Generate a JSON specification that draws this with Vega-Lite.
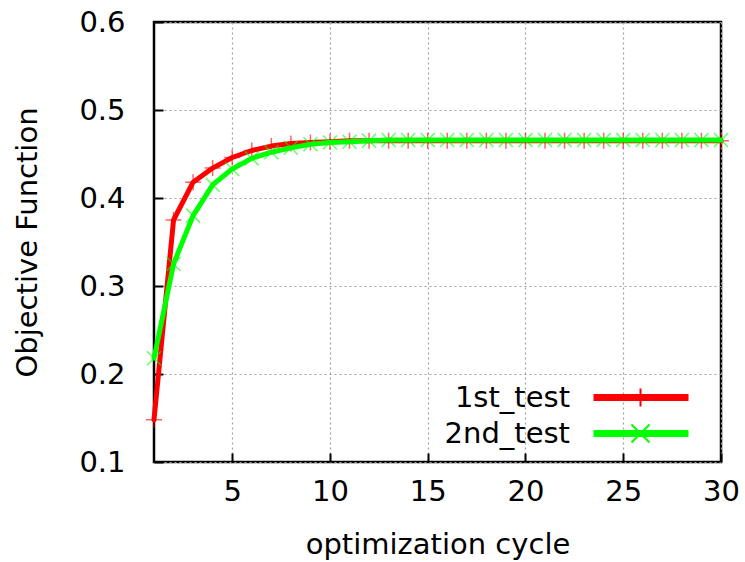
{
  "$schema": "https://vega.github.io/schema/vega-lite/v6.json",
  "autosize": {"type": "none"},
  "padding": {"left": 154, "top": 22, "right": 24, "bottom": 100},
  "width": 567,
  "height": 440,
  "background": "#ffffff",
  "config": {
    "view": {"stroke": "#000000", "strokeWidth": 2.5},
    "font": "DejaVu Sans",
    "axis": {
      "labelFont": "DejaVu Sans",
      "titleFont": "DejaVu Sans",
      "labelFontSize": 29,
      "titleFontSize": 29,
      "labelColor": "#000000",
      "titleColor": "#000000",
      "titleFontWeight": "normal",
      "labelFlush": false,
      "labelOverlap": false,
      "domain": false,
      "grid": true,
      "gridColor": "#a0a0a0",
      "gridDash": [2, 3],
      "gridWidth": 1.2,
      "tickColor": "#000000",
      "tickWidth": 2,
      "tickSize": -9
    }
  },
  "data": {
    "values": [
      {"x": 1, "series": "1st_test", "y": 0.148},
      {"x": 2, "series": "1st_test", "y": 0.375},
      {"x": 3, "series": "1st_test", "y": 0.418},
      {"x": 4, "series": "1st_test", "y": 0.434},
      {"x": 5, "series": "1st_test", "y": 0.446},
      {"x": 6, "series": "1st_test", "y": 0.454},
      {"x": 7, "series": "1st_test", "y": 0.459},
      {"x": 8, "series": "1st_test", "y": 0.462},
      {"x": 9, "series": "1st_test", "y": 0.463},
      {"x": 10, "series": "1st_test", "y": 0.464},
      {"x": 11, "series": "1st_test", "y": 0.465},
      {"x": 12, "series": "1st_test", "y": 0.465},
      {"x": 13, "series": "1st_test", "y": 0.465},
      {"x": 14, "series": "1st_test", "y": 0.465},
      {"x": 15, "series": "1st_test", "y": 0.465},
      {"x": 16, "series": "1st_test", "y": 0.465},
      {"x": 17, "series": "1st_test", "y": 0.465},
      {"x": 18, "series": "1st_test", "y": 0.465},
      {"x": 19, "series": "1st_test", "y": 0.465},
      {"x": 20, "series": "1st_test", "y": 0.465},
      {"x": 21, "series": "1st_test", "y": 0.465},
      {"x": 22, "series": "1st_test", "y": 0.465},
      {"x": 23, "series": "1st_test", "y": 0.465},
      {"x": 24, "series": "1st_test", "y": 0.465},
      {"x": 25, "series": "1st_test", "y": 0.465},
      {"x": 26, "series": "1st_test", "y": 0.465},
      {"x": 27, "series": "1st_test", "y": 0.465},
      {"x": 28, "series": "1st_test", "y": 0.465},
      {"x": 29, "series": "1st_test", "y": 0.465},
      {"x": 30, "series": "1st_test", "y": 0.465},
      {"x": 1, "series": "2nd_test", "y": 0.218},
      {"x": 2, "series": "2nd_test", "y": 0.325},
      {"x": 3, "series": "2nd_test", "y": 0.38},
      {"x": 4, "series": "2nd_test", "y": 0.415},
      {"x": 5, "series": "2nd_test", "y": 0.433},
      {"x": 6, "series": "2nd_test", "y": 0.445},
      {"x": 7, "series": "2nd_test", "y": 0.452},
      {"x": 8, "series": "2nd_test", "y": 0.457},
      {"x": 9, "series": "2nd_test", "y": 0.461},
      {"x": 10, "series": "2nd_test", "y": 0.463},
      {"x": 11, "series": "2nd_test", "y": 0.464},
      {"x": 12, "series": "2nd_test", "y": 0.465},
      {"x": 13, "series": "2nd_test", "y": 0.466},
      {"x": 14, "series": "2nd_test", "y": 0.466},
      {"x": 15, "series": "2nd_test", "y": 0.466},
      {"x": 16, "series": "2nd_test", "y": 0.466},
      {"x": 17, "series": "2nd_test", "y": 0.466},
      {"x": 18, "series": "2nd_test", "y": 0.466},
      {"x": 19, "series": "2nd_test", "y": 0.466},
      {"x": 20, "series": "2nd_test", "y": 0.466},
      {"x": 21, "series": "2nd_test", "y": 0.466},
      {"x": 22, "series": "2nd_test", "y": 0.466},
      {"x": 23, "series": "2nd_test", "y": 0.466},
      {"x": 24, "series": "2nd_test", "y": 0.466},
      {"x": 25, "series": "2nd_test", "y": 0.466},
      {"x": 26, "series": "2nd_test", "y": 0.466},
      {"x": 27, "series": "2nd_test", "y": 0.466},
      {"x": 28, "series": "2nd_test", "y": 0.466},
      {"x": 29, "series": "2nd_test", "y": 0.466},
      {"x": 30, "series": "2nd_test", "y": 0.466}
    ]
  },
  "encoding": {
    "x": {
      "field": "x", "type": "quantitative",
      "scale": {"domain": [1, 30], "nice": false, "zero": false},
      "axis": {"title": "optimization cycle", "values": [5, 10, 15, 20, 25, 30], "labelPadding": 24, "titlePadding": 24}
    },
    "y": {
      "field": "y", "type": "quantitative",
      "scale": {"domain": [0.1, 0.6], "nice": false, "zero": false},
      "axis": {"title": "Objective Function", "values": [0.1, 0.2, 0.3, 0.4, 0.5, 0.6], "format": ".1f", "labelPadding": 38, "titlePadding": 36}
    },
    "color": {
      "field": "series", "type": "nominal",
      "scale": {"domain": ["1st_test", "2nd_test"], "range": ["#ff0000", "#00ff00"]},
      "legend": {
        "title": null,
        "orient": "none",
        "legendX": 387,
        "legendY": 361,
        "labelFont": "DejaVu Sans",
        "labelFontSize": 29,
        "labelColor": "#000000",
        "labelAlign": "right",
        "labelOffset": 0,
        "symbolSize": 4,
        "symbolStrokeWidth": 2,
        "rowPadding": 6,
        "encode": {
          "symbols": {
            "update": {
              "shape": {"signal": "datum.value === '1st_test' ? 'M39,-2.5H132V2.5H39ZM85,-9V9' : 'M39,-2.5H132V2.5H39ZM76,-9L94,9M76,9L94,-9'"},
              "fill": {"signal": "datum.value === '1st_test' ? '#ff0000' : '#00ff00'"},
              "stroke": {"signal": "datum.value === '1st_test' ? '#ff0000' : '#00ff00'"},
              "strokeWidth": {"value": 2},
              "opacity": {"value": 1},
              "fillOpacity": {"value": 1},
              "strokeOpacity": {"value": 1}
            }
          }
        }
      }
    }
  },
  "layer": [
    {
      "transform": [{"filter": "datum.series === '1st_test'"}],
      "mark": {"type": "line", "strokeWidth": 5, "strokeJoin": "round", "strokeCap": "round"}
    },
    {
      "transform": [{"filter": "datum.series === '1st_test'"}],
      "mark": {"type": "point", "shape": "M-1,0H1M0,-1V1", "size": 256, "filled": false, "strokeWidth": 1.5, "opacity": 0.6}
    },
    {
      "transform": [{"filter": "datum.series === '2nd_test'"}],
      "mark": {"type": "line", "strokeWidth": 5, "strokeJoin": "round", "strokeCap": "round"}
    },
    {
      "transform": [{"filter": "datum.series === '2nd_test'"}],
      "mark": {"type": "point", "shape": "M-1,-1L1,1M-1,1L1,-1", "size": 196, "filled": false, "strokeWidth": 1.5, "opacity": 0.6}
    }
  ]
}
